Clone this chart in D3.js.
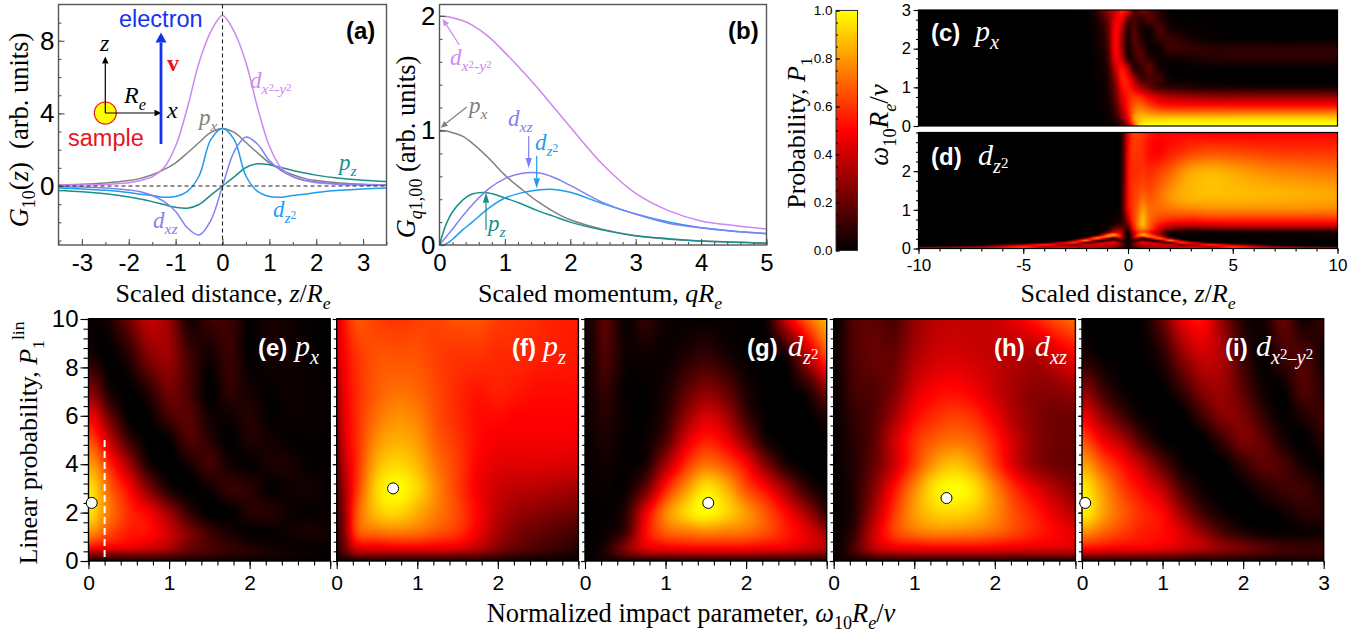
<!DOCTYPE html>
<html>
<head>
<meta charset="utf-8">
<script src="https://cdn.jsdelivr.net/npm/d3@7"></script>
<style>
  html, body { margin: 0; padding: 0; background: #fff; }
  svg { display: block; }
</style>
</head>
<body>
<svg id="fig" width="1368" height="633"></svg>
<script>
// ---- panel (a): G10(z)
const zA = [-3.5,-3,-2.5,-2,-1.75,-1.5,-1.25,-1,-.75,-.5,-.25,0,.25,.5,.75,1,1.25,1.5,1.75,2,2.5,3,3.5];
const aPx  = [.07,.1,.17,.3,.42,.62,.9,1.28,1.82,2.4,2.95,3.17,2.95,2.4,1.82,1.28,.9,.62,.42,.3,.17,.1,.07];
const aPz  = [-.25,-.32,-.43,-.6,-.72,-.86,-1.02,-1.17,-1.22,-1.02,-.5,0,.5,1.02,1.22,1.17,1.02,.86,.72,.6,.43,.32,.25];
const aDz2 = [-.11,-.16,-.24,-.36,-.45,-.52,-.62,-.58,-.3,.55,2.55,3.17,2.55,.55,-.3,-.58,-.62,-.52,-.45,-.36,-.24,-.16,-.11];
const aDxz = [-.04,-.06,-.11,-.22,-.32,-.52,-.85,-1.4,-2.3,-2.7,-1.9,0,1.9,2.7,2.3,1.4,.85,.52,.32,.22,.11,.06,.04];
const aDx2 = [.05,.06,.09,.18,.3,.5,1,2.2,4.3,6.8,8.5,9.4,8.5,6.8,4.3,2.2,1,.5,.3,.18,.09,.06,.05];

// ---- panel (b): G_q1,00
const qB = [0,.1,.2,.35,.5,.75,1,1.25,1.5,1.75,2,2.5,3,3.5,4,4.5,5];
const bPx  = [1,.995,.98,.95,.89,.76,.61,.49,.38,.29,.22,.135,.08,.05,.035,.025,.015];
const bPz  = [0,.18,.29,.39,.445,.455,.41,.36,.3,.25,.2,.13,.08,.055,.035,.025,.015];
const bDz2 = [0,.01,.05,.13,.2,.32,.41,.455,.48,.485,.46,.36,.27,.2,.15,.12,.1];
const bDxz = [0,.07,.14,.25,.35,.49,.58,.625,.63,.59,.52,.37,.27,.19,.15,.12,.1];
const bDx2 = [2,1.995,1.985,1.96,1.92,1.82,1.68,1.53,1.37,1.2,1.03,.7,.45,.3,.21,.17,.14];

// ---- panels (c), (d): probability against z and w
const zMapC = [-10,-5,-3,-2,-1.5,-1,-.6,-.3,0,.3,.6,1,1.5,2,3,4,6,10];
const wC = [3,2.75,2.5,2.25,2,1.75,1.5,1.25,1,.75,.5,.25,.1,0];
const mapC = [
  [0,0,0,.02,.1,.28,.4,.58,.5,.16,.24,.18,.08,.02,0,0,0,0],
  [0,0,0,.01,.05,.2,.45,.46,.18,.14,.08,.16,.1,.02,.01,0,0,0],
  [0,0,0,.01,.04,.16,.5,.36,.08,.16,.06,.03,.14,.05,.02,.01,0,0],
  [0,0,0,0,.03,.14,.5,.3,.06,.17,.09,.03,.1,.11,.05,.02,.01,.01],
  [0,0,0,0,.03,.12,.5,.32,.05,.14,.15,.03,.03,.11,.1,.08,.08,.08],
  [0,0,0,0,.02,.1,.46,.38,.08,.1,.17,.09,.03,.03,.05,.07,.08,.08],
  [0,0,0,0,.02,.08,.38,.52,.35,.08,.1,.18,.05,.01,.01,.01,.01,.01],
  [0,0,0,0,.02,.06,.3,.55,.5,.3,.12,.14,.11,.02,.01,0,0,0],
  [0,0,0,0,.01,.05,.24,.5,.55,.45,.33,.22,.13,.1,.08,.06,.05,.05],
  [0,0,0,0,.01,.04,.2,.42,.55,.6,.58,.48,.4,.35,.32,.3,.3,.3],
  [0,0,0,0,.01,.03,.15,.36,.55,.68,.72,.65,.58,.56,.55,.55,.55,.55],
  [0,0,0,0,.01,.02,.1,.26,.5,.78,.85,.86,.84,.84,.84,.84,.85,.85],
  [0,0,0,0,0,.02,.05,.16,.4,.75,.92,.96,.97,.98,.98,.98,.98,.98],
  [0,0,0,0,0,.01,.03,.1,.25,.65,.95,1,1,1,1,1,1,1]
];
const zMapD = [-10,-7,-5,-4,-3,-2.5,-2,-1.5,-1,-.7,-.4,-.2,0,.2,.4,.7,1,1.5,2,2.5,3,4,5,7,10];
const wD = [3,2.5,2,1.5,1.25,1,.75,.6,.5,.42,.35,.3,.25,.2,.15,.1,.05,0];
const mapD = [
  [0,0,0,0,0,0,0,0,0,.01,.02,.18,.45,.6,.62,.6,.55,.5,.5,.5,.5,.48,.48,.49,.5],
  [0,0,0,0,0,0,0,0,0,.01,.02,.18,.48,.6,.6,.58,.52,.5,.55,.58,.62,.65,.64,.61,.6],
  [0,0,0,0,0,0,0,0,0,.01,.02,.18,.5,.58,.58,.6,.58,.62,.68,.76,.82,.85,.82,.76,.72],
  [0,0,0,0,0,0,0,0,0,.01,.02,.2,.5,.6,.62,.66,.64,.7,.78,.83,.86,.88,.87,.85,.82],
  [0,0,0,0,0,0,0,0,0,.01,.02,.2,.5,.6,.64,.72,.68,.72,.78,.82,.84,.85,.85,.84,.82],
  [0,0,0,0,0,0,0,0,.01,.01,.03,.2,.48,.6,.66,.8,.72,.7,.72,.73,.74,.76,.76,.76,.75],
  [0,0,0,0,0,0,0,0,.01,.02,.05,.12,.35,.58,.68,.86,.72,.62,.58,.57,.56,.58,.58,.58,.58],
  [0,0,0,0,0,0,0,.01,.02,.06,.12,.15,.2,.5,.68,.85,.7,.52,.42,.39,.38,.4,.41,.42,.42],
  [0,0,0,0,0,0,0,.01,.05,.2,.28,.2,.1,.42,.62,.75,.66,.42,.22,.18,.16,.18,.19,.2,.2],
  [0,0,0,0,0,0,0,.01,.15,.4,.4,.2,.04,.3,.52,.65,.55,.3,.08,.05,.04,.03,.04,.05,.06],
  [0,0,0,0,0,0,0,.04,.65,.85,.55,.25,.02,.25,.55,.85,.68,.35,.03,.02,.02,.01,.01,.02,.03],
  [0,0,0,0,0,0,.01,.55,.72,.5,.55,.25,.02,.25,.55,.5,.72,.55,.01,.01,.01,.01,.01,.01,.02],
  [0,0,0,0,0,.01,.4,.7,.2,.05,.2,.15,.02,.15,.2,.05,.2,.7,.4,.01,.01,.01,.01,.01,.01],
  [0,0,0,0,.02,.4,.75,.08,.1,.25,.1,.08,.02,.08,.1,.25,.1,.08,.75,.4,.02,.01,0,0,0],
  [0,0,.01,.03,.5,.6,.08,.3,.45,.5,.3,.12,.02,.12,.3,.5,.45,.3,.08,.6,.5,.03,.01,0,0],
  [0,.01,.3,.6,.3,.25,.45,.42,.38,.38,.3,.15,.02,.15,.3,.38,.38,.42,.45,.25,.3,.6,.3,.01,0],
  [.05,.25,.6,.35,.4,.35,.35,.35,.35,.3,.2,.1,.02,.1,.2,.3,.35,.35,.35,.35,.4,.35,.6,.25,.05],
  [.6,.6,.6,.6,.6,.55,.5,.5,.45,.35,.2,.1,.02,.1,.2,.35,.45,.5,.5,.55,.6,.6,.6,.6,.6]
];

// ---- panels (e)-(i): linear probability against impact parameter
const bHeat = [0,.1,.25,.5,.75,1,1.25,1.5,1.75,2,2.25,2.5,2.75,3];
const pHeat = [10,8.5,7,6,5,4,3,2,1.2,.6,.3,0];
const mapE = [
  [.01,.01,.05,.22,.38,.3,.04,.12,.12,.01,.05,.03,.01,0],
  [.06,.03,0,.08,.26,.3,.13,.04,.11,.01,.04,.03,.01,0],
  [.28,.22,.06,0,.08,.22,.14,0,.09,.04,.01,.03,.02,.01],
  [.48,.42,.22,.01,.01,.14,.17,.04,.03,.07,.01,.02,.02,.01],
  [.66,.58,.4,.12,0,.01,.15,.08,0,.06,.04,.01,.01,.01],
  [.82,.76,.58,.32,.05,0,.04,.13,.04,.01,.05,.05,.01,.01],
  [.97,.88,.7,.5,.25,.05,0,.03,.1,.08,.01,.03,.04,.01],
  [.97,.88,.74,.58,.48,.3,.1,0,0,.07,.07,.03,.01,.02],
  [.8,.75,.65,.55,.52,.4,.25,.12,.05,.01,.01,.03,.05,.03],
  [.55,.52,.5,.47,.42,.35,.22,.15,.1,.06,.03,.02,.01,.01],
  [.3,.3,.28,.27,.26,.22,.16,.12,.09,.07,.05,.03,.02,.01],
  [.03,.03,.03,.03,.03,.03,.02,.02,.02,.01,.01,.01,0,0]
];
const mapF = [
  [.42,.54,.66,.62,.6,.62,.63,.66,.66,.62,.6,.58,.56,.55],
  [.4,.5,.6,.66,.66,.66,.62,.6,.6,.58,.58,.56,.55,.54],
  [.32,.47,.58,.68,.72,.7,.64,.58,.54,.56,.54,.52,.52,.52],
  [.28,.45,.58,.72,.78,.75,.65,.58,.52,.52,.5,.5,.5,.5],
  [.22,.43,.58,.78,.84,.8,.68,.6,.52,.48,.48,.48,.48,.47],
  [.18,.38,.58,.85,.92,.86,.72,.62,.5,.45,.44,.44,.43,.42],
  [.14,.33,.6,.92,1,.92,.76,.62,.48,.4,.37,.36,.34,.32],
  [.12,.3,.66,.88,.92,.84,.74,.64,.5,.37,.3,.27,.24,.22],
  [.1,.28,.64,.72,.74,.72,.66,.6,.47,.33,.24,.2,.16,.13],
  [.08,.22,.45,.48,.5,.5,.48,.46,.38,.27,.2,.15,.12,.08],
  [.05,.15,.28,.3,.3,.3,.3,.28,.25,.18,.13,.1,.07,.05],
  [.01,.02,.03,.03,.03,.03,.03,.03,.03,.02,.02,.01,.01,.01]
];
const mapG = [
  [.04,.07,.18,.02,.1,.03,.01,.01,.01,.01,.03,.42,.68,.88],
  [.03,.06,.15,.03,.03,.02,.06,.1,.05,.01,0,.05,.35,.65],
  [.02,.05,.1,.01,.01,.05,.18,.27,.2,.06,0,0,.05,.25],
  [.02,.04,.07,.02,.01,.08,.28,.42,.33,.12,.01,0,0,.07],
  [.01,.03,.05,.01,.02,.15,.42,.55,.47,.27,.05,0,0,.01],
  [.01,.02,.03,.01,.05,.32,.58,.72,.65,.5,.25,.06,0,0],
  [.01,.01,.02,.02,.2,.55,.78,.95,.85,.65,.5,.3,.1,.01],
  [.01,.01,.01,.08,.45,.75,.92,1,.92,.8,.66,.5,.32,.1],
  [.01,.01,.02,.12,.5,.68,.73,.76,.74,.72,.65,.55,.45,.3],
  [.01,.01,.05,.25,.45,.5,.52,.53,.53,.52,.5,.48,.42,.36],
  [.01,.02,.06,.2,.3,.32,.33,.33,.33,.33,.32,.3,.28,.25],
  [.01,.01,.02,.02,.02,.02,.02,.02,.02,.02,.02,.02,.02,.02]
];
const mapH = [
  [.01,.05,.16,.18,.15,.28,.36,.38,.38,.4,.45,.55,.65,.72],
  [.01,.06,.15,.2,.2,.33,.4,.42,.4,.38,.36,.34,.42,.5],
  [.01,.05,.13,.16,.25,.42,.5,.52,.48,.4,.32,.27,.27,.3],
  [.01,.04,.1,.16,.32,.5,.58,.62,.58,.47,.34,.26,.22,.22],
  [.01,.03,.08,.18,.4,.58,.68,.72,.68,.56,.4,.27,.22,.2],
  [.01,.03,.07,.2,.4,.62,.8,.88,.8,.62,.42,.28,.22,.2],
  [.01,.02,.07,.26,.52,.76,.95,1,.94,.76,.58,.45,.34,.25],
  [.01,.02,.07,.33,.6,.8,.9,.92,.88,.78,.65,.55,.45,.35],
  [.01,.03,.1,.4,.62,.72,.76,.76,.74,.7,.63,.56,.5,.44],
  [.01,.04,.14,.38,.48,.5,.52,.52,.52,.5,.48,.46,.45,.43],
  [.01,.04,.12,.25,.3,.32,.32,.32,.32,.32,.3,.3,.3,.3],
  [.01,.01,.02,.02,.03,.03,.03,.03,.03,.03,.03,.03,.03,.03]
];
const mapI = [
  [0,0,0,0,.02,.2,.46,.52,.28,.06,.04,.2,.03,.12],
  [.05,.04,.01,0,0,.08,.28,.4,.33,.12,.01,.12,.15,.03],
  [.28,.25,.13,.03,0,0,.1,.26,.3,.18,.04,.01,.15,.08],
  [.46,.42,.3,.13,.02,0,0,.13,.26,.24,.1,.01,.06,.13],
  [.66,.6,.48,.34,.14,.02,0,0,.12,.24,.18,.05,0,.08],
  [.82,.78,.66,.52,.36,.17,.03,0,0,.1,.18,.14,.04,0],
  [.97,.92,.8,.62,.5,.36,.14,.03,0,.01,.07,.12,.12,.05],
  [.98,.94,.82,.68,.58,.5,.3,.12,.03,0,0,.03,.08,.08],
  [.78,.76,.7,.62,.55,.52,.42,.28,.14,.06,.02,.01,.02,.03],
  [.55,.55,.53,.5,.5,.47,.42,.36,.28,.22,.16,.12,.1,.1],
  [.35,.35,.34,.33,.32,.3,.27,.23,.2,.17,.14,.11,.1,.1],
  [.03,.03,.03,.03,.03,.03,.03,.03,.03,.02,.02,.02,.02,.02]
];
const markerB = [.04,.7,1.53,1.4,.04];
const markerP = [2.4,3,2.4,2.6,2.4];

const SANS = "'Liberation Sans', Arial, sans-serif";
const SERIF = "'Liberation Serif', 'Times New Roman', serif";
const PX = "#808080", PZ = "#1a8f8a", DZ2 = "#1e9cf0", DXZ = "#8080f5", DX2 = "#cc88f0";
const FRAME = "#555";

const svg = d3.select("#fig");
const heatColor = d3.scaleLinear().domain([0,.5,1]).range(["#000","#f00","#ff0"]).clamp(true);

// mixed italic / sub / sup text. parts = [text, "i"|"", shift, size]
function rich(parent, x, y, parts, fs, opts) {
  opts = opts || {};
  const t = parent.append("text")
    .attr("font-family", opts.family || SERIF)
    .attr("font-size", fs)
    .attr("fill", opts.fill || "#000")
    .attr("text-anchor", opts.anchor || "start")
    .attr("transform", `translate(${x},${y})` + (opts.rotate ? ` rotate(${opts.rotate})` : ""));
  let prev = 0;
  for (const [s, style, shift, size] of parts) {
    const sh = (shift || 0) * fs;
    const sp = t.append("tspan").text(s)
      .attr("font-size", (size || 1) * fs)
      .attr("dy", prev - sh);
    if (style === "i") sp.attr("font-style", "italic");
    prev = sh;
  }
  return t;
}

const subRe = [["R", "i"], ["e", "i", -.28, .68]];
const partsDx2 = [["d", "i"], ["x", "i", -.28, .68], ["2", "", -.12, .48], ["-", "", -.28, .68], ["y", "i", -.28, .68], ["2", "", -.12, .48]];
const partsDx2i = [["d", "i"], ["x", "i", -.28, .68], ["2", "", -.1, .5], ["–", "", -.28, .6], ["y", "i", -.28, .68], ["2", "", -.1, .5]];
const partsDz2 = [["d", "i"], ["z", "i", -.28, .68], ["2", "", -.1, .5]];
const partsDxz = [["d", "i"], ["xz", "i", -.28, .68]];
const partsPx = [["p", "i"], ["x", "i", -.28, .68]];
const partsPz = [["p", "i"], ["z", "i", -.28, .68]];

function arrow(g, x1, y1, x2, y2, color, w, len, hw) {
  const a = Math.atan2(y2 - y1, x2 - x1);
  const bx = x2 - len * Math.cos(a), by = y2 - len * Math.sin(a);
  const nx = -Math.sin(a) * hw, ny = Math.cos(a) * hw;
  g.append("line").attr("x1", x1).attr("y1", y1).attr("x2", bx).attr("y2", by)
    .attr("stroke", color).attr("stroke-width", w);
  g.append("path").attr("d", `M${x2},${y2}L${bx + nx},${by + ny}L${bx - nx},${by - ny}Z`).attr("fill", color);
}

// tick marks and labels, built with d3's axes
function drawAxis(g, axis, tx, ty, fs, color, family) {
  const n = g.append("g").attr("transform", `translate(${tx},${ty})`).call(axis);
  n.select(".domain").remove();
  n.selectAll("line").attr("stroke", color).attr("stroke-width", 1.1);
  n.selectAll("text").attr("font-family", family || SANS).attr("font-size", fs).attr("fill", "#000");
  return n;
}
const plain = d => String(d);

// ---- line panels
function linePanel(x0, x1, y0, y1, xDom, yDom, xs, series, xMajor, xMinor, yMajor, yMinor) {
  const x = d3.scaleLinear().domain(xDom).range([x0, x1]);
  const y = d3.scaleLinear().domain(yDom).range([y1, y0]);
  const g = svg.append("g");
  const line = d3.line().x((d, i) => x(xs[i])).y(d => y(d)).curve(d3.curveCatmullRom.alpha(.5));
  for (const [vals, color] of series) {
    g.append("path").attr("d", line(vals)).attr("fill", "none").attr("stroke", color).attr("stroke-width", 1.5);
  }
  drawAxis(g, d3.axisBottom(x).tickValues(xMinor).tickSize(-3).tickFormat(""), 0, y1, 0, FRAME);
  drawAxis(g, d3.axisBottom(x).tickValues(xMajor).tickSize(-6).tickPadding(9).tickFormat(plain), 0, y1, 24, FRAME);
  drawAxis(g, d3.axisLeft(y).tickValues(yMinor).tickSize(-3).tickFormat(""), x0, 0, 0, FRAME);
  drawAxis(g, d3.axisLeft(y).tickValues(yMajor).tickSize(-6).tickPadding(4).tickFormat(plain), x0, 0, 26, FRAME);
  g.append("rect").attr("x", x0).attr("y", y0).attr("width", x1 - x0).attr("height", y1 - y0)
    .attr("fill", "none").attr("stroke", FRAME).attr("stroke-width", 1.4);
  return { x, y, g };
}

// Panel (a)
const pa = linePanel(58.5, 386.5, 4.5, 245, [-3.5, 3.5], [-3.25, 10], zA,
  [[aPx, PX], [aPz, PZ], [aDx2, DX2], [aDz2, DZ2], [aDxz, DXZ]],
  [-3,-2,-1,0,1,2,3], d3.range(-3.5, 3.51, .5), [0,4,8], d3.range(-3, 10, 1));
pa.g.append("line").attr("x1", pa.x(-3.5)).attr("x2", pa.x(3.5)).attr("y1", pa.y(0)).attr("y2", pa.y(0))
  .attr("stroke", "#222").attr("stroke-width", 1.1).attr("stroke-dasharray", "4,3");
pa.g.append("line").attr("x1", pa.x(0)).attr("x2", pa.x(0)).attr("y1", pa.y(10)).attr("y2", pa.y(-3.25))
  .attr("stroke", "#222").attr("stroke-width", 1.1).attr("stroke-dasharray", "4,3");
// sample sketch
const sk = pa.g.append("g");
sk.append("circle").attr("cx", 105.3).attr("cy", 113).attr("r", 11).attr("fill", "#ffff00").attr("stroke", "#e8141c").attr("stroke-width", 1.1);
arrow(sk, 105.3, 113, 105.3, 56.5, "#000", 1.2, 7, 3.2);
arrow(sk, 105.3, 113, 161.5, 113, "#000", 1.2, 7, 3.2);
arrow(sk, 161, 144, 161, 32.5, "#1433f0", 2.8, 10, 5.5);
sk.append("text").text("electron").attr("x", 119).attr("y", 27).attr("font-family", SANS).attr("font-size", 23.5).attr("fill", "#1433f0");
sk.append("text").text("sample").attr("x", 68).attr("y", 146).attr("font-family", SANS).attr("font-size", 23.5).attr("fill", "#e8141c");
sk.append("text").text("v").attr("x", 167).attr("y", 71).attr("font-family", SERIF).attr("font-weight", "bold").attr("font-size", 24).attr("fill", "#e8141c");
rich(sk, 100, 51, [["z", "i"]], 24);
rich(sk, 167, 118, [["x", "i"]], 24);
rich(sk, 124, 103, subRe, 24);
rich(pa.g, 250, 88, partsDx2, 23, { fill: DX2 });
rich(pa.g, 199, 125, partsPx, 23, { fill: PX });
rich(pa.g, 339, 170, partsPz, 23, { fill: PZ });
rich(pa.g, 273, 217, partsDz2, 23, { fill: DZ2 });
rich(pa.g, 153, 228, partsDxz, 23, { fill: DXZ });
pa.g.append("text").text("(a)").attr("x", 346).attr("y", 39).attr("font-family", SANS).attr("font-weight", "bold").attr("font-size", 24);
rich(svg, 28, 130, [["G", "i"], ["10", "", -.28, .68], ["(", ""], ["z", "i"], [")\u00a0\u00a0(arb. units)", ""]], 26.5, { rotate: -90, anchor: "middle" });
rich(svg, 223, 302, [["Scaled distance, ", ""], ["z", "i"], ["/", ""], ...subRe], 26, { anchor: "middle" });

// Panel (b)
const pb = linePanel(439.5, 766.5, 4.5, 245, [0, 5], [0, 2.1], qB,
  [[bPx, PX], [bPz, PZ], [bDz2, DZ2], [bDxz, DXZ], [bDx2, DX2]],
  [0,1,2,3,4,5], d3.range(0, 5.01, .2), [0,1,2], d3.range(0, 2.01, .2));
arrow(pb.g, 459.3, 45, 442.7, 19, DX2, 1.2, 7, 3);
arrow(pb.g, 466.7, 107, 440.7, 127.7, PX, 1.2, 7, 3);
arrow(pb.g, 528.7, 136, 528.7, 168, DXZ, 1.2, 10, 3.2);
arrow(pb.g, 536.7, 155.7, 536.7, 188.3, DZ2, 1.2, 10, 3.2);
arrow(pb.g, 486, 230, 486, 192.7, PZ, 1.2, 10, 3.2);
rich(pb.g, 450, 65, partsDx2, 23, { fill: DX2 });
rich(pb.g, 469, 113, partsPx, 23, { fill: PX });
rich(pb.g, 508, 126, partsDxz, 23, { fill: DXZ });
rich(pb.g, 535, 150, partsDz2, 23, { fill: DZ2 });
rich(pb.g, 488, 231, partsPz, 23, { fill: PZ });
pb.g.append("text").text("(b)").attr("x", 728).attr("y", 39).attr("font-family", SANS).attr("font-weight", "bold").attr("font-size", 24);
rich(svg, 415, 147, [["G", "i"], ["q", "i", -.28, .68], ["1,00", "", -.28, .68], [" (arb. units)", ""]], 26.5, { rotate: -90, anchor: "middle" });
rich(svg, 600, 302, [["Scaled momentum, ", ""], ["q", "i"], ...subRe], 26, { anchor: "middle" });

// ---- heat maps: cubic between the read grid values
function tangents(xs, ys) {
  const n = xs.length, m = [];
  for (let i = 0; i < n; i++) {
    const a = Math.max(i - 1, 0), b = Math.min(i + 1, n - 1);
    m.push((ys[b] - ys[a]) / (xs[b] - xs[a]));
  }
  return m;
}
function hermite(xs, ys, m, q) {
  let i = Math.min(Math.max(d3.bisectRight(xs, q) - 1, 0), xs.length - 2);
  const h = xs[i + 1] - xs[i], t = (q - xs[i]) / h, t2 = t * t, t3 = t2 * t;
  return (2 * t3 - 3 * t2 + 1) * ys[i] + (t3 - 2 * t2 + t) * h * m[i]
    + (-2 * t3 + 3 * t2) * ys[i + 1] + (t3 - t2) * h * m[i + 1];
}
function heatImage(g, rows, colVals, rowVals, x, y) {
  const [px0, px1] = x.range(), [py1, py0] = y.range();
  const W = Math.round(px1 - px0), H = Math.round(py1 - py0);
  const canvas = document.createElement("canvas");
  canvas.width = W; canvas.height = H;
  const ctx = canvas.getContext("2d"), img = ctx.createImageData(W, H);
  const asc = rowVals.slice().reverse();
  const cols = colVals.map((_, j) => asc.map((_, i) => rows[rows.length - 1 - i][j]));
  const colM = cols.map(c => tangents(asc, c));
  for (let py = 0; py < H; py++) {
    const v = y.invert(py0 + py + .5);
    const line = cols.map((c, j) => hermite(asc, c, colM[j], v));
    const m = tangents(colVals, line);
    for (let px = 0; px < W; px++) {
      const c = d3.rgb(heatColor(hermite(colVals, line, m, x.invert(px0 + px + .5))));
      const k = 4 * (py * W + px);
      img.data[k] = c.r; img.data[k + 1] = c.g; img.data[k + 2] = c.b; img.data[k + 3] = 255;
    }
  }
  ctx.putImageData(img, 0, 0);
  g.append("image").attr("href", canvas.toDataURL()).attr("x", px0).attr("y", py0)
    .attr("width", px1 - px0).attr("height", py1 - py0).attr("preserveAspectRatio", "none");
}

// Colour bar
const cbY = d3.scaleLinear().domain([0, 1]).range([250.5, 10.5]);
const cb = svg.append("g");
const cbValues = d3.range(0, 241).map(i => i / 240);
cb.selectAll("rect.s").data(cbValues).enter().append("rect").attr("class", "s")
  .attr("x", 836).attr("width", 21.5).attr("y", d => cbY(d) - 1).attr("height", 1.5)
  .attr("fill", d => heatColor(d));
cb.append("rect").attr("x", 836).attr("y", 10.5).attr("width", 21.5).attr("height", 240)
  .attr("fill", "none").attr("stroke", "#333").attr("stroke-width", 1);
drawAxis(cb, d3.axisLeft(cbY).tickValues(d3.range(0, 1.01, .05)).tickSize(-2).tickFormat(""), 836, 0, 0, "#000");
drawAxis(cb, d3.axisLeft(cbY).tickValues([0,.2,.4,.6,.8,1]).tickSize(-4).tickPadding(3.5).tickFormat(d3.format(".1f")), 836, 0, 13.5, "#000");
rich(svg, 805, 133, [["Probability, ", ""], ["P", "i"], ["1", "", -.28, .68]], 26, { rotate: -90, anchor: "middle" });

// Panels (c), (d)
const zScale = d3.scaleLinear().domain([-10, 10]).range([918.5, 1337.5]);
function mapPanel(y0, y1, rows, cols, rowVals, yTicks, name, partsName, nameX, baseY) {
  const y = d3.scaleLinear().domain([0, 3]).range([y1, y0]);
  const g = svg.append("g");
  heatImage(g, rows, cols, rowVals, zScale, y);
  g.append("rect").attr("x", 918.5).attr("y", y0).attr("width", 419).attr("height", y1 - y0)
    .attr("fill", "none").attr("stroke", "#000").attr("stroke-width", 1.2);
  drawAxis(g, d3.axisLeft(y).tickValues(d3.range(0, 3.01, .25)).tickSize(2.5).tickFormat(""), 918.5, 0, 0, "#000");
  drawAxis(g, d3.axisLeft(y).tickValues(yTicks).tickSize(5).tickPadding(2.5).tickFormat(plain), 918.5, 0, 16.5, "#000");
  g.append("text").text(name).attr("x", 931).attr("y", baseY).attr("fill", "#fff")
    .attr("font-family", SANS).attr("font-weight", "bold").attr("font-size", 24);
  rich(g, nameX, baseY, partsName, 30, { fill: "#fff" });
  return g;
}
mapPanel(10, 126, mapC, zMapC, wC, [0,1,2,3], "(c)", partsPx, 975, 41);
const gd = mapPanel(132.5, 248.5, mapD, zMapD, wD, [0,1,2], "(d)", partsDz2, 978, 165);
drawAxis(gd, d3.axisBottom(zScale).tickValues(d3.range(-10, 10.01, 1)).tickSize(3).tickFormat(""), 0, 248.5, 0, "#000");
drawAxis(gd, d3.axisBottom(zScale).tickValues([-10,-5,0,5,10]).tickSize(5.5).tickPadding(5).tickFormat(plain), 0, 248.5, 17, "#000");
rich(svg, 888, 125, [["ω", "i"], ["10", "", -.28, .68], ...subRe, ["/", ""], ["v", "i"]], 27, { rotate: -90, anchor: "middle" });
rich(svg, 1128, 302, [["Scaled distance, ", ""], ["z", "i"], ["/", ""], ...subRe], 26, { anchor: "middle" });

// Panels (e)-(i)
const heatPanels = [
  { left: 88.5, rows: mapE, name: "(e)", nameX: 258, parts: partsPx, partX: 295 },
  { left: 336.7, rows: mapF, name: "(f)", nameX: 512, parts: partsPz, partX: 543 },
  { left: 585, rows: mapG, name: "(g)", nameX: 747, parts: partsDz2, partX: 788 },
  { left: 833.7, rows: mapH, name: "(h)", nameX: 994, parts: partsDxz, partX: 1035 },
  { left: 1082, rows: mapI, name: "(i)", nameX: 1225, parts: partsDx2i, partX: 1256 }
];
const pScale = d3.scaleLinear().domain([0, 10]).range([561, 319]);
heatPanels.forEach((p, k) => {
  const x = d3.scaleLinear().domain([0, 3]).range([p.left, p.left + 241.7]);
  const g = svg.append("g");
  heatImage(g, p.rows, bHeat, pHeat, x, pScale);
  g.append("rect").attr("x", p.left).attr("y", 319).attr("width", 241.7).attr("height", 242)
    .attr("fill", "none").attr("stroke", "#000").attr("stroke-width", 1.4);
  g.append("line").attr("x1", p.left).attr("x2", p.left + 241.7).attr("y1", 319).attr("y2", 319).attr("stroke", "#000").attr("stroke-width", 2);
  const first = k === 0, last = k === heatPanels.length - 1;
  drawAxis(g, d3.axisLeft(pScale).tickValues(d3.range(0, 10.01, .4)).tickSize(first ? 5 : 3).tickFormat(""), p.left, 0, 0, "#000");
  drawAxis(g, d3.axisLeft(pScale).tickValues([0,2,4,6,8,10]).tickSize(first ? 8 : 4).tickPadding(2)
    .tickFormat(first ? plain : ""), p.left, 0, 24, "#000");
  drawAxis(g, d3.axisBottom(x).tickValues(d3.range(0, 3.01, .2)).tickSize(4.5).tickFormat(""), 0, 561, 0, "#000");
  drawAxis(g, d3.axisBottom(x).tickValues([0,1,2,3]).tickSize(8).tickPadding(6)
    .tickFormat(d => (d === 3 && !last) ? "" : String(d)), 0, 561, 21, "#000");
  if (first) {
    g.append("line").attr("x1", x(.2)).attr("x2", x(.2)).attr("y1", pScale(5)).attr("y2", pScale(0))
      .attr("stroke", "#fff").attr("stroke-width", 2).attr("stroke-dasharray", "7,4");
  }
  g.append("circle").attr("cx", x(markerB[k])).attr("cy", pScale(markerP[k])).attr("r", 5.5)
    .attr("fill", "#fff").attr("stroke", "#000").attr("stroke-width", 1);
  g.append("text").text(p.name).attr("x", p.nameX).attr("y", 356).attr("fill", "#fff")
    .attr("font-family", SANS).attr("font-weight", "bold").attr("font-size", 24);
  rich(g, p.partX, 356, p.parts, 30, { fill: "#fff" });
});
rich(svg, 37, 443, [["Linear probability, ", ""], ["P", "i"], ["1", "", -.28, .68], ["lin", "", .5, .68]], 26, { rotate: -90, anchor: "middle" });
rich(svg, 691, 622, [["Normalized impact parameter, ", ""], ["ω", "i"], ["10", "", -.28, .68], ...subRe, ["/", ""], ["v", "i"]], 26.5, { anchor: "middle" });
</script>
</body>
</html>
